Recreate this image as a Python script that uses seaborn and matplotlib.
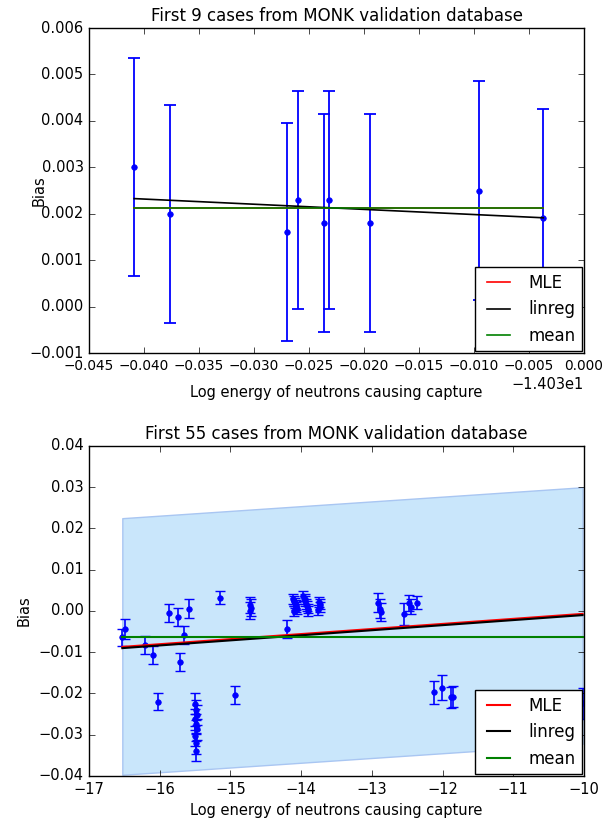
import numpy as np
import pandas as pd
import matplotlib
matplotlib.use("Agg")
import matplotlib.pyplot as plt
from matplotlib.ticker import MultipleLocator, ScalarFormatter
import seaborn as sns

# ---------------- data: first 9 cases ----------------
top_x = [-14.0709, -14.0676, -14.0570, -14.0560, -14.0536, -14.0532, -14.0495, -14.0395, -14.0337]
top_bias = [0.0030, 0.0020, 0.0016, 0.0023, 0.0018, 0.0023, 0.0018, 0.0025, 0.0019]
top_err = [0.00235, 0.00235, 0.00235, 0.00235, 0.00235, 0.00235, 0.00235, 0.00235, 0.00235]

# ---------------- data: first 55 cases ----------------
bot_x = [-16.53, -16.49, -16.21, -16.09, -16.02, -15.87, -15.74, -15.71, -15.66, -15.59,
         -15.50, -15.49, -15.48, -15.50, -15.49, -15.48, -15.50, -15.49, -15.49,
         -15.15, -14.94,
         -14.72, -14.71, -14.72,
         -14.20,
         -14.12, -14.10, -14.09, -14.08, -14.07, -14.06, -14.10,
         -13.97, -13.95, -13.94, -13.93, -13.92, -13.91, -13.90,
         -13.75, -13.73, -13.74, -13.76,
         -12.92, -12.87, -12.89,
         -12.54, -12.47, -12.45, -12.36,
         -12.12, -12.01, -11.88, -11.85,
         -10.02]
bot_bias = [-0.0064, -0.0044, -0.0082, -0.0107, -0.0220, -0.0004, -0.0014, -0.0124, -0.0059, 0.0006,
            -0.0225, -0.0240, -0.0252, -0.0263, -0.0274, -0.0287, -0.0303, -0.0321, -0.0339,
            0.0032, -0.0204,
            0.0015, 0.0008, 0.0001,
            -0.0044,
            0.0030, 0.0025, 0.0020, 0.0015, 0.0010, 0.0005, 0.0000,
            0.0036, 0.0030, 0.0024, 0.0018, 0.0012, 0.0006, 0.0001,
            0.0022, 0.0016, 0.0010, 0.0003,
            0.0020, -0.0003, 0.0006,
            -0.0008, 0.0020, 0.0010, 0.0020,
            -0.0197, -0.0186, -0.0209, -0.0208,
            -0.0224]
bot_err = [0.0020, 0.0025, 0.0022, 0.0022, 0.0021, 0.0022, 0.0022, 0.0022, 0.0022, 0.0022,
           0.0025, 0.0025, 0.0025, 0.0025, 0.0025, 0.0025, 0.0025, 0.0025, 0.0025,
           0.0016, 0.0021,
           0.0020, 0.0020, 0.0020,
           0.0022,
           0.0012, 0.0012, 0.0012, 0.0012, 0.0012, 0.0012, 0.0012,
           0.0012, 0.0012, 0.0012, 0.0012, 0.0012, 0.0012, 0.0012,
           0.0012, 0.0012, 0.0012, 0.0012,
           0.0023, 0.0022, 0.0022,
           0.0027, 0.0019, 0.0018, 0.0016,
           0.0028, 0.0030, 0.0025, 0.0025,
           0.0038]

# fitted lines of the 55-case panel (values at the data x-range ends)
bot_mle_ends = [-0.0087, -0.0007]
bot_linreg_ends = [-0.0090, -0.0010]
bot_mean_value = -0.0063
bot_band_upper = [0.0225, 0.0300]
bot_band_lower = [-0.0397, -0.0322]

plt.style.use("classic")
plt.rcParams.update({
    "figure.facecolor": "white",
    "savefig.facecolor": "white",
    "font.family": ["DejaVu Sans"],
    "xtick.labelsize": 10.5,
    "ytick.labelsize": 10.5,
    "axes.labelsize": 10.5,
    "axes.titlesize": 12,
    "legend.fontsize": 12,
})

fig = plt.figure(figsize=(6.02, 8.25), dpi=100)
ax1 = fig.add_axes([0.148, 0.572, 0.822, 0.394])
ax2 = fig.add_axes([0.148, 0.0594, 0.822, 0.40])


def lines_df(xs, ys):
    return pd.DataFrame({"x": xs, "y": ys})


# ---------------- top panel ----------------
tx = np.array(top_x)
ty = np.array(top_bias)
tw = 1.0 / np.array(top_err) ** 2
mle_top = np.sum(tw * ty) / np.sum(tw)
slope, icpt = np.polyfit(tx, ty, 1)
xr = [tx.min(), tx.max()]

ax1.errorbar(tx, ty, yerr=top_err, fmt="o", color="b", mec="b", ms=4,
             elinewidth=1.3, capsize=4, capthick=1.3, zorder=2)
sns.lineplot(data=lines_df(xr, [mle_top, mle_top]), x="x", y="y", color="r",
             label="MLE", ax=ax1, estimator=None, lw=1.2, zorder=3)
sns.lineplot(data=lines_df(xr, [icpt + slope * v for v in xr]), x="x", y="y",
             color="k", label="linreg", ax=ax1, estimator=None, lw=1.2, zorder=3)
sns.lineplot(data=lines_df(xr, [ty.mean(), ty.mean()]), x="x", y="y", color="g",
             label="mean", ax=ax1, estimator=None, lw=1.2, zorder=3)

ax1.set_xlim(-14.075, -14.03)
ax1.set_ylim(-0.001, 0.006)
ax1.xaxis.set_major_locator(MultipleLocator(0.005))
ax1.yaxis.set_major_locator(MultipleLocator(0.001))
fmt = ScalarFormatter(useOffset=-14.03)
ax1.xaxis.set_major_formatter(fmt)
ax1.tick_params(axis="x", labelsize=9.8)
ax1.set_title("First 9 cases from MONK validation database")
ax1.set_xlabel("Log energy of neutrons causing capture", labelpad=9)
ax1.set_ylabel("Bias")
ax1.yaxis.set_label_coords(-0.085, 0.5)
ax1.legend(loc="lower right", borderaxespad=0.1, handlelength=2.0)

# ---------------- bottom panel ----------------
bx = np.array(bot_x)
br = [bx.min(), bx.max()]
ax2.fill_between(br, bot_band_lower, bot_band_upper, facecolor="#c9e6fb",
                 edgecolor="#a9c6f2", lw=1, zorder=1)
ax2.errorbar(bx, bot_bias, yerr=bot_err, fmt="o", color="b", mec="b", ms=4,
             elinewidth=1.2, capsize=3.5, capthick=1.0, zorder=2)
sns.lineplot(data=lines_df(br, bot_mle_ends), x="x", y="y", color="r",
             label="MLE", ax=ax2, estimator=None, lw=1.5, zorder=3)
sns.lineplot(data=lines_df(br, bot_linreg_ends), x="x", y="y", color="k",
             label="linreg", ax=ax2, estimator=None, lw=1.5, zorder=3)
sns.lineplot(data=lines_df(br, [bot_mean_value, bot_mean_value]), x="x", y="y",
             color="g", label="mean", ax=ax2, estimator=None, lw=1.5, zorder=3)

ax2.set_xlim(-17, -10)
ax2.set_ylim(-0.04, 0.04)
ax2.xaxis.set_major_locator(MultipleLocator(1))
ax2.yaxis.set_major_locator(MultipleLocator(0.01))
ax2.set_title("First 55 cases from MONK validation database")
ax2.set_xlabel("Log energy of neutrons causing capture")
ax2.set_ylabel("Bias")
ax2.legend(loc="lower right", borderaxespad=0.1, handlelength=2.0)

fig.savefig("out.png", dpi=100)
